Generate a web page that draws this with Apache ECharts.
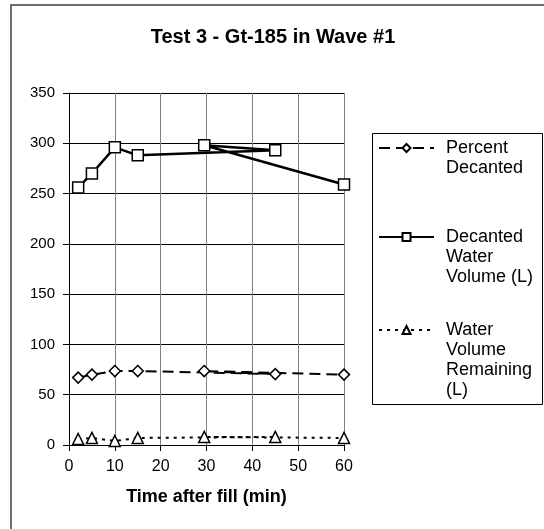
<!DOCTYPE html>
<html>
<head>
<meta charset="utf-8">
<script src="https://cdn.jsdelivr.net/npm/echarts@6/dist/echarts.min.js"></script>
<style>
html,body{margin:0;padding:0;background:#fff;}
#chart{width:544px;height:529px;}
</style>
</head>
<body>
<div id="chart"></div>
<script>
var titleText = 'Test 3 - Gt-185 in Wave #1';
var xAxisName = 'Time after fill (min)';
var seriesNames = ['Percent Decanted', 'Decanted Water Volume (L)', 'Water Volume Remaining (L)'];
var legendLines = [['Percent', 'Decanted'], ['Decanted', 'Water', 'Volume (L)'], ['Water', 'Volume', 'Remaining', '(L)']];
var times = [2, 5, 10, 15, 45, 29.5, 60];
var percentDecanted = [67, 70, 73.5, 73.5, 70.5, 73.5, 70];
var decantedVolume = [256, 270, 296, 288, 293, 298, 259];
var volumeRemaining = [6, 7, 4, 7, 8, 8, 7];
var xTicks = {min: 0, max: 60, interval: 10};
var yTicks = {min: 0, max: 350, interval: 50};

function pairs(ys) { return times.map(function (t, i) { return [t, ys[i]]; }); }

var FONT = '"Liberation Sans", Arial, sans-serif';
var chart = echarts.init(document.getElementById('chart'));

function legendFor(idx, top) {
  var lines = legendLines[idx];
  var pad = [];
  for (var k = 0; k < lines.length - 1; k++) pad.push('');
  return {
    data: [seriesNames[idx]],
    left: 378, top: top, padding: 0,
    itemWidth: 55, itemHeight: 10, itemGap: 0,
    selectedMode: false,
    formatter: function () { return pad.concat(lines).join('\n'); },
    textStyle: {fontFamily: FONT, fontSize: 18, lineHeight: 20, color: '#000', padding: [0, 0, 0, 7]}
  };
}

var markerStyle = {color: '#fff', borderColor: '#000', borderWidth: 1.5};

chart.setOption({
  animation: false,
  backgroundColor: '#fff',
  title: {
    text: titleText, left: 268, top: 22, textAlign: 'center',
    textStyle: {fontFamily: FONT, fontSize: 20, fontWeight: 'bold', color: '#000'}
  },
  graphic: [
    {type: 'rect', shape: {x: 11, y: 5, width: 700, height: 700}, style: {fill: 'none', stroke: '#404040', lineWidth: 1.5}, silent: true},
    {type: 'rect', shape: {x: 372.5, y: 133.5, width: 170, height: 271}, style: {fill: '#fff', stroke: '#000', lineWidth: 1}, silent: true, z: -1}
  ],
  legend: [legendFor(0, 118), legendFor(1, 187), legendFor(2, 260)],
  grid: {left: 69, top: 93, width: 275, height: 352},
  xAxis: {
    type: 'value', min: xTicks.min, max: xTicks.max, interval: xTicks.interval,
    name: xAxisName, nameLocation: 'middle', nameGap: 43,
    nameTextStyle: {fontFamily: FONT, fontSize: 18, fontWeight: 'bold', color: '#000'},
    axisLine: {show: true, lineStyle: {color: '#000', width: 1}},
    axisTick: {show: true, length: 6, lineStyle: {color: '#000'}},
    axisLabel: {fontFamily: FONT, fontSize: 16, color: '#000', margin: 14},
    splitLine: {show: true, lineStyle: {color: '#808080', width: 1}}
  },
  yAxis: {
    type: 'value', min: yTicks.min, max: yTicks.max, interval: yTicks.interval,
    axisLine: {show: true, lineStyle: {color: '#000', width: 1}},
    axisTick: {show: true, length: 6, lineStyle: {color: '#000'}},
    axisLabel: {fontFamily: FONT, fontSize: 15, color: '#000', margin: 14},
    splitLine: {show: true, lineStyle: {color: '#000', width: 1}}
  },
  series: [
    {
      name: seriesNames[0], type: 'line', data: pairs(percentDecanted),
      symbol: 'diamond', symbolSize: 11, showAllSymbol: true,
      lineStyle: {color: '#000', width: 2, type: [11, 6]},
      itemStyle: markerStyle, z: 3
    },
    {
      name: seriesNames[1], type: 'line', data: pairs(decantedVolume),
      symbol: 'rect', symbolSize: 11, showAllSymbol: true,
      lineStyle: {color: '#000', width: 2.5, type: 'solid'},
      itemStyle: markerStyle, z: 3
    },
    {
      name: seriesNames[2], type: 'line', data: pairs(volumeRemaining),
      symbol: 'triangle', symbolSize: 11, showAllSymbol: true,
      lineStyle: {color: '#000', width: 2, type: [3, 5]},
      itemStyle: markerStyle, z: 3
    }
  ]
});
</script>
</body>
</html>
